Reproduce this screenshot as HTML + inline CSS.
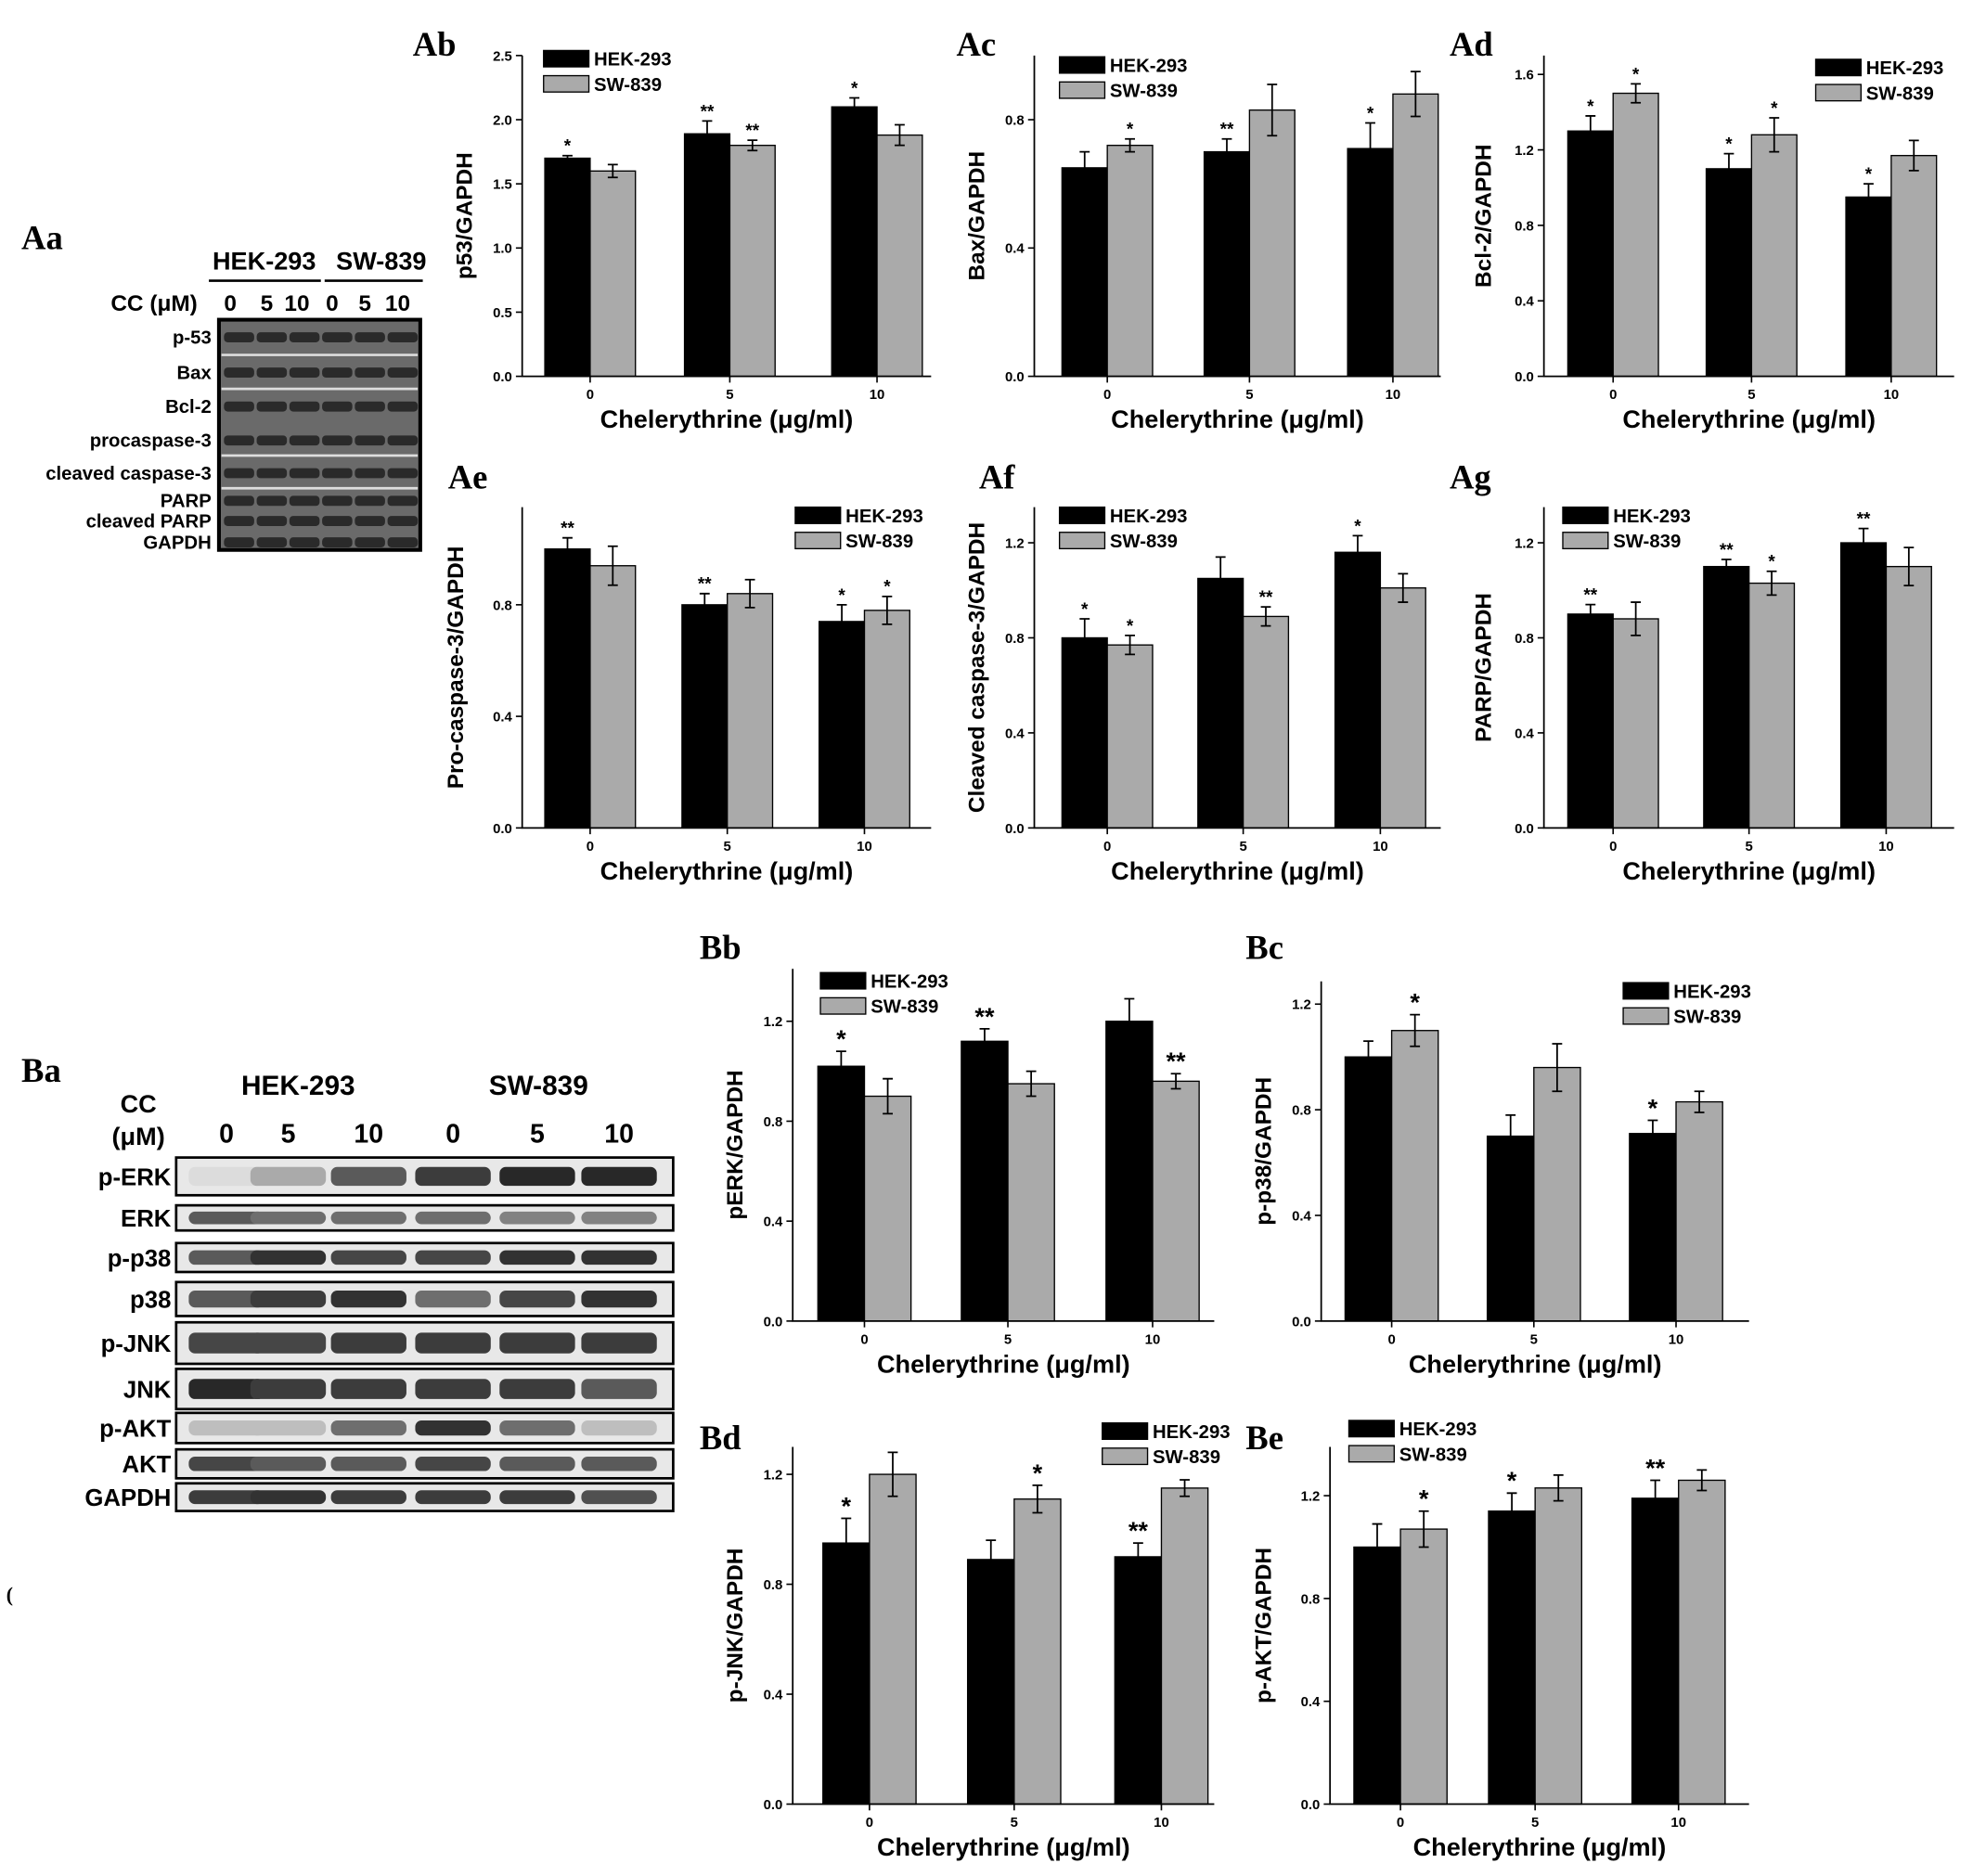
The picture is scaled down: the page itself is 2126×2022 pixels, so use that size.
<!DOCTYPE html>
<html><head><meta charset="utf-8"><style>
html,body{margin:0;padding:0;background:#fff}
svg{display:block}
text{font-family:"Liberation Sans",Arial,sans-serif;font-weight:bold;fill:#000}
.pl{font-family:"Liberation Serif",serif;font-size:27px}
</style></head><body>
<svg id="fig" width="2126" height="2022" viewBox="0 0 1568 1491" xmlns="http://www.w3.org/2000/svg">
<g id="blots"></g>
<g id="charts"></g>
<text x="5" y="1273" font-size="16" style="font-family:'Liberation Serif',serif">(</text>
</svg>
<script>
// ---- chart data (top-level arrays) ----
const categories = ["0","5","10"];
const seriesNames = ["HEK-293","SW-839"];
const abHek=[1.70,1.89,2.10], abSw=[1.60,1.80,1.88], abHekErr=[0.02,0.10,0.07], abSwErr=[0.05,0.04,0.08];
const abHekStar=["*","**","*"], abSwStar=["","**",""], abTicks=[0,0.5,1.0,1.5,2.0,2.5];
const acHek=[0.65,0.70,0.71], acSw=[0.72,0.83,0.88], acHekErr=[0.05,0.04,0.08], acSwErr=[0.02,0.08,0.07];
const acHekStar=["","**","*"], acSwStar=["*","",""], acTicks=[0,0.4,0.8];
const adHek=[1.30,1.10,0.95], adSw=[1.50,1.28,1.17], adHekErr=[0.08,0.08,0.07], adSwErr=[0.05,0.09,0.08];
const adHekStar=["*","*","*"], adSwStar=["*","*",""], adTicks=[0,0.4,0.8,1.2,1.6];
const aeHek=[1.00,0.80,0.74], aeSw=[0.94,0.84,0.78], aeHekErr=[0.04,0.04,0.06], aeSwErr=[0.07,0.05,0.05];
const aeHekStar=["**","**","*"], aeSwStar=["","","*"], aeTicks=[0,0.4,0.8];
const afHek=[0.80,1.05,1.16], afSw=[0.77,0.89,1.01], afHekErr=[0.08,0.09,0.07], afSwErr=[0.04,0.04,0.06];
const afHekStar=["*","","*"], afSwStar=["*","**",""], afTicks=[0,0.4,0.8,1.2];
const agHek=[0.90,1.10,1.20], agSw=[0.88,1.03,1.10], agHekErr=[0.04,0.03,0.06], agSwErr=[0.07,0.05,0.08];
const agHekStar=["**","**","**"], agSwStar=["","*",""], agTicks=[0,0.4,0.8,1.2];
const bbHek=[1.02,1.12,1.20], bbSw=[0.90,0.95,0.96], bbHekErr=[0.06,0.05,0.09], bbSwErr=[0.07,0.05,0.03];
const bbHekStar=["*","**",""], bbSwStar=["","","**"], bbTicks=[0,0.4,0.8,1.2];
const bcHek=[1.00,0.70,0.71], bcSw=[1.10,0.96,0.83], bcHekErr=[0.06,0.08,0.05], bcSwErr=[0.06,0.09,0.04];
const bcHekStar=["","","*"], bcSwStar=["*","",""], bcTicks=[0,0.4,0.8,1.2];
const bdHek=[0.95,0.89,0.90], bdSw=[1.20,1.11,1.15], bdHekErr=[0.09,0.07,0.05], bdSwErr=[0.08,0.05,0.03];
const bdHekStar=["*","","**"], bdSwStar=["","*",""], bdTicks=[0,0.4,0.8,1.2];
const beHek=[1.00,1.14,1.19], beSw=[1.07,1.23,1.26], beHekErr=[0.09,0.07,0.07], beSwErr=[0.07,0.05,0.04];
const beHekStar=["","*","**"], beSwStar=["*","",""], beTicks=[0,0.4,0.8,1.2];

const NS="http://www.w3.org/2000/svg";
function mk(tag,attrs,parent){const e=document.createElementNS(NS,tag);for(const k in attrs)e.setAttribute(k,attrs[k]);parent.appendChild(e);return e;}
function tx(s,x,y,size,parent,anchor){const t=mk("text",{x:x,y:y,"font-size":size,"text-anchor":anchor||"middle"},parent);t.textContent=s;return t;}

function chart(o){
  const g=mk("g",{},document.getElementById("charts"));
  
  
  const y=v=>o.bottom-(v-0)/(o.max)*(o.bottom-o.top);
  const x=i=>o.cats[i];
  const bw=o.bw||36;
  [[o.hek,o.hekErr,o.hekStar,"#000",-1],[o.sw,o.swErr,o.swStar,"#aaa",0]].forEach((s,si)=>{
    s[0].forEach((v,i)=>{
      const x0=x(i)+(si===0?-bw:0);
      const r=mk("rect",{x:x0,y:y(v),width:bw,height:o.bottom-y(v),fill:s[3],stroke:"#000","stroke-width":1},g);
      
      
      const cx=x0+bw/2, e=s[1][i];
      mk("path",{d:`M${cx},${y(v+e)}V${y(v-e)}M${cx-4},${y(v+e)}H${cx+4}M${cx-4},${y(v-e)}H${cx+4}`,stroke:"#000","stroke-width":1.3,fill:"none"},g);
      if(s[2][i]){const st=tx(s[2][i],cx,y(v+e)-3,o.starSize||14,g);
        
        }
    });
  });
  mk("path",{d:`M${o.left},${o.top}V${o.bottom}H${o.right}`,stroke:"#000","stroke-width":1.3,fill:"none"},g);
  o.ticks.forEach(t=>{
    mk("line",{x1:o.left-5,x2:o.left,y1:y(t),y2:y(t),stroke:"#000","stroke-width":1.2},g);
    const l=tx(t.toFixed(1),o.left-8,y(t)+4,o.tickSize||11,g,"end");
    
    
  });
  categories.forEach((c,i)=>{
    mk("line",{x1:x(i),x2:x(i),y1:o.bottom,y2:o.bottom+5,stroke:"#000","stroke-width":1.2},g);
    const l=tx(c,x(i),o.bottom+18,o.tickSize||11,g);
    
    
  });
  const xl=tx("Chelerythrine (μg/ml)",(o.left+o.right)/2,o.bottom+41,20,g);
  
  
  const yx=o.left-(o.yoff||40), yy=(o.top+o.bottom)/2;
  const yl=tx(o.ylabel,0,0,18,g);
  yl.setAttribute("transform",`translate(${yx},${yy}) rotate(-90)`);
  
  
  const lg=mk("g",{},g);
  
  
  [["#000",0],["#aaa",1]].forEach(([f,k])=>{
    mk("rect",{x:o.lx,y:o.ly+k*20,width:36,height:13,fill:f,stroke:"#000"},lg);
    const t=tx(seriesNames[k],o.lx+40,o.ly+k*20+12,15,lg,"start");
    
    
  });
  const pl=tx(o.label,o.px,o.py,27,g,"start"); pl.setAttribute("class","pl");
  
  
}
chart({id:"ab",label:"Ab",px:328,py:44,left:415,right:740,top:44,bottom:299,max:2.5,cats:[469,580,697],hek:abHek,sw:abSw,hekErr:abHekErr,swErr:abSwErr,hekStar:abHekStar,swStar:abSwStar,ticks:abTicks,ylabel:"p53/GAPDH",lx:432,ly:40});
chart({id:"ac",label:"Ac",px:760,py:44,left:822,right:1145,top:44,bottom:299,max:1.0,cats:[880,993,1107],hek:acHek,sw:acSw,hekErr:acHekErr,swErr:acSwErr,hekStar:acHekStar,swStar:acSwStar,ticks:acTicks,ylabel:"Bax/GAPDH",lx:842,ly:45});
chart({id:"ad",label:"Ad",px:1152,py:44,left:1227,right:1553,top:44,bottom:299,max:1.7,cats:[1282,1392,1503],hek:adHek,sw:adSw,hekErr:adHekErr,swErr:adSwErr,hekStar:adHekStar,swStar:adSwStar,ticks:adTicks,ylabel:"Bcl-2/GAPDH",lx:1443,ly:47,yoff:42});
chart({id:"ae",label:"Ae",px:356,py:388,left:415,right:740,top:403,bottom:658,max:1.15,cats:[469,578,687],hek:aeHek,sw:aeSw,hekErr:aeHekErr,swErr:aeSwErr,hekStar:aeHekStar,swStar:aeSwStar,ticks:aeTicks,ylabel:"Pro-caspase-3/GAPDH",lx:632,ly:403,yoff:47});
chart({id:"af",label:"Af",px:778,py:388,left:822,right:1145,top:403,bottom:658,max:1.35,cats:[880,988,1097],hek:afHek,sw:afSw,hekErr:afHekErr,swErr:afSwErr,hekStar:afHekStar,swStar:afSwStar,ticks:afTicks,ylabel:"Cleaved caspase-3/GAPDH",lx:842,ly:403});
chart({id:"ag",label:"Ag",px:1152,py:388,left:1227,right:1553,top:403,bottom:658,max:1.35,cats:[1282,1390,1499],hek:agHek,sw:agSw,hekErr:agHekErr,swErr:agSwErr,hekStar:agHekStar,swStar:agSwStar,ticks:agTicks,ylabel:"PARP/GAPDH",lx:1242,ly:403,yoff:42});
chart({id:"bb",label:"Bb",px:556,py:762,left:630,right:965,top:770,bottom:1050,max:1.41,cats:[687,801,916],hek:bbHek,sw:bbSw,hekErr:bbHekErr,swErr:bbSwErr,hekStar:bbHekStar,swStar:bbSwStar,ticks:bbTicks,ylabel:"pERK/GAPDH",lx:652,ly:773,starSize:20,bw:37,yoff:40});
chart({id:"bc",label:"Bc",px:990,py:762,left:1050,right:1390,top:780,bottom:1050,max:1.286,cats:[1106,1219,1332],hek:bcHek,sw:bcSw,hekErr:bcHekErr,swErr:bcSwErr,hekStar:bcHekStar,swStar:bcSwStar,ticks:bcTicks,ylabel:"p-p38/GAPDH",lx:1290,ly:781,starSize:20,bw:37});
chart({id:"bd",label:"Bd",px:556,py:1152,left:630,right:965,top:1150,bottom:1434,max:1.30,cats:[691,806,923],hek:bdHek,sw:bdSw,hekErr:bdHekErr,swErr:bdSwErr,hekStar:bdHekStar,swStar:bdSwStar,ticks:bdTicks,ylabel:"p-JNK/GAPDH",lx:876,ly:1131,starSize:20,bw:37});
chart({id:"be",label:"Be",px:990,py:1152,left:1057,right:1390,top:1150,bottom:1434,max:1.39,cats:[1113,1220,1334],hek:beHek,sw:beSw,hekErr:beHekErr,swErr:beSwErr,hekStar:beHekStar,swStar:beSwStar,ticks:beTicks,ylabel:"p-AKT/GAPDH",lx:1072,ly:1129,starSize:20,bw:37,yoff:47});

// ---- western blots ----
const B=document.getElementById("blots");
function label(s,x,y,size,anchor,name){const t=tx(s,x,y,size,B,anchor);return t;}
let t=tx("Aa",17,198,27,B,"start");t.setAttribute("class","pl");
label("HEK-293",210,214,20,"middle","blot-a-hek-header");label("SW-839",303,214,20,"middle","blot-a-sw-header");
mk("line",{x1:166,x2:255,y1:223,y2:223,stroke:"#000","stroke-width":2},B);mk("line",{x1:258,x2:336,y1:223,y2:223,stroke:"#000","stroke-width":2},B);
label("CC (μM)",88,247,18,"start","blot-a-cc-label");
[183,212,236,264,290,316].forEach((x,i)=>label(["0","5","10","0","5","10"][i],x,247,18,"middle","blot-a-dose"));
const ba=mk("rect",{x:174,y:254,width:160,height:183,fill:"#6a6a6a",stroke:"#000","stroke-width":3},B);

const aRows=[["p-53",268],["Bax",296],["Bcl-2",323],["procaspase-3",350],["cleaved caspase-3",376],["PARP",398],["cleaved PARP",414],["GAPDH",431]];
aRows.forEach(([n,y])=>{label(n,168,y+5,15,"end","blot-a-row-label");
  for(let i=0;i<6;i++)mk("rect",{x:178+i*26,y:y-4,width:24,height:8,rx:3,fill:"#2a2a2a"},B);});
[282,309,362,388].forEach(y=>mk("line",{x1:176,x2:332,y1:y,y2:y,stroke:"#ddd","stroke-width":2},B));
t=tx("Ba",17,860,27,B,"start");t.setAttribute("class","pl");
label("HEK-293",237,870,22,"middle","blot-b-hek-header");label("SW-839",428,870,22,"middle","blot-b-sw-header");
label("CC",110,884,20,"middle","blot-b-cc-label");label("(μM)",110,910,20,"middle","blot-b-um-label");
[180,229,293,360,427,492].forEach((x,i)=>label(["0","5","10","0","5","10"][i],x,908,21,"middle","blot-b-dose"));
const bRows=[["p-ERK",920,950],["ERK",958,978],["p-p38",988,1011],["p38",1019,1046],["p-JNK",1051,1084],["JNK",1088,1120],["p-AKT",1123,1147],["AKT",1152,1175],["GAPDH",1179,1201]];
const bInt=[[0.05,0.3,0.7,0.85,0.95,0.95],[0.7,0.6,0.6,0.6,0.5,0.5],[0.7,0.9,0.8,0.8,0.9,0.9],[0.7,0.85,0.9,0.6,0.8,0.9],[0.8,0.8,0.85,0.85,0.85,0.85],[0.95,0.85,0.85,0.85,0.85,0.7],[0.2,0.2,0.6,0.9,0.6,0.2],[0.8,0.7,0.7,0.8,0.7,0.7],[0.85,0.9,0.85,0.85,0.85,0.75]];
bRows.forEach(([n,y0,y1],r)=>{label(n,136,(y0+y1)/2+7,19,"end","blot-b-row-label");
  const rr=mk("rect",{x:140,y:y0,width:395,height:y1-y0,fill:"#e8e8e8",stroke:"#000","stroke-width":2},B);
  
  [180,229,293,360,427,492].forEach((x,i)=>{const v=bInt[r][i];const c=Math.round(230-200*v);
    mk("rect",{x:x-30,y:(y0+y1)/2-(y1-y0)*0.25,width:60,height:(y1-y0)*0.5,rx:5,fill:`rgb(${c},${c},${c})`},B);});});
</script>
</body></html>
